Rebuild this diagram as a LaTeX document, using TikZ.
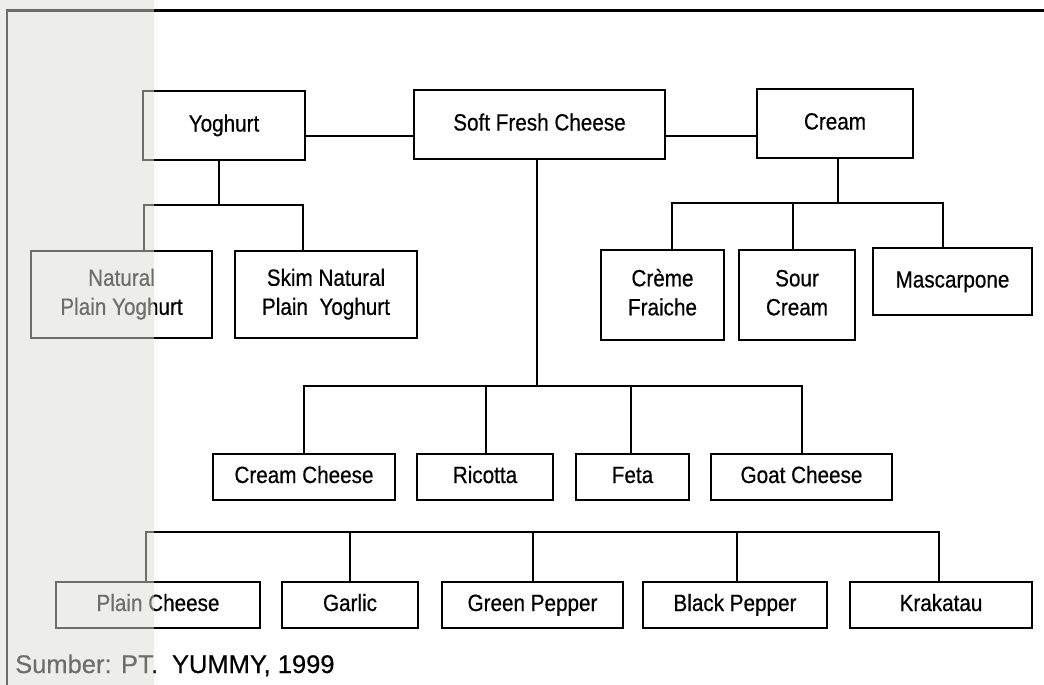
\documentclass[tikz,border=0pt]{standalone}
\usepackage{fontspec}
\setmainfont{Liberation Sans}[FakeBold=0.4]
\newfontfamily\boxfont{Liberation Sans}[FakeStretch=0.88,FakeBold=0.5]
\definecolor{ovl}{RGB}{219,219,215}
\tikzset{
  cbox/.style={draw, line width=2.4pt, inner sep=0pt, outer sep=0pt, align=center,
    font=\boxfont\fontsize{23.5}{29}\selectfont},
  one/.style={text height=20pt, text depth=8pt},
  conn/.style={line width=2.4pt},
}
\begin{document}
\begin{tikzpicture}[x=1pt,y=-1pt]
\useasboundingbox (0,0) rectangle (1044,685);
% frame
\draw[line width=2.8pt] (1044,10.5) -- (7,10.5) -- (7,685);
% top row
\node[cbox, one, minimum width=162pt, minimum height=69pt] (yog) at (224,125.5) {Yoghurt};
\node[cbox, one, minimum width=251pt, minimum height=69pt] (soft) at (539.5,124.5) {Soft Fresh Cheese};
\node[cbox, one, minimum width=156pt, minimum height=69pt] (cream) at (835,123.5) {Cream};
\coordinate (hl) at (0,136);
\draw[conn] (yog.east |- hl) -- (soft.west |- hl);
\draw[conn] (soft.east |- hl) -- (cream.west |- hl);
% yoghurt children
\node[cbox, minimum width=181pt, minimum height=87pt] (nat) at (121.5,294.5) {Natural\strut\\Plain Yoghurt\strut};
\node[cbox, minimum width=182pt, minimum height=87pt] (skim) at (326,294.5) {Skim Natural\strut\\Plain\ \ Yoghurt\strut};
\coordinate (jy) at (219,205);
\coordinate (y1) at (144,205);
\coordinate (y2) at (303,205);
\draw[conn] (jy |- yog.south) -- (jy);
\draw[conn] (nat.north -| y1) -- (y1) -- (y2) -- (skim.north -| y2);
% cream children
\node[cbox, minimum width=123pt, minimum height=90pt] (creme) at (662.5,295) {Crème\strut\\Fraiche\strut};
\node[cbox, minimum width=116pt, minimum height=90pt] (sour) at (797,295) {Sour\strut\\Cream\strut};
\node[cbox, one, minimum width=159pt, minimum height=67pt] (masc) at (952.5,281.5) {Mascarpone};
\coordinate (jc) at (838,203);
\coordinate (c1) at (672,203);
\coordinate (c2) at (793,203);
\coordinate (c3) at (943,203);
\draw[conn] (jc |- cream.south) -- (jc);
\draw[conn] (creme.north -| c1) -- (c1) -- (c3) -- (masc.north -| c3);
\draw[conn] (c2) -- (sour.north -| c2);
% soft cheese children
\node[cbox, one, minimum width=182pt, minimum height=46pt] (cc) at (304,477) {Cream Cheese};
\node[cbox, one, minimum width=136pt, minimum height=46pt] (ric) at (485,477) {Ricotta};
\node[cbox, one, minimum width=113pt, minimum height=46pt] (feta) at (632.5,477) {Feta};
\node[cbox, one, minimum width=181pt, minimum height=46pt] (goat) at (801.5,477) {Goat Cheese};
\coordinate (js) at (537,386);
\coordinate (s1) at (304,386);
\coordinate (s2) at (486,386);
\coordinate (s3) at (631,386);
\coordinate (s4) at (802,386);
\draw[conn] (js |- soft.south) -- (js);
\draw[conn] (cc.north -| s1) -- (s1) -- (s4) -- (goat.north -| s4);
\draw[conn] (s2) -- (ric.north -| s2);
\draw[conn] (s3) -- (feta.north -| s3);
% bottom row
\node[cbox, one, minimum width=204pt, minimum height=46pt] (plain) at (158,605) {Plain Cheese};
\node[cbox, one, minimum width=136pt, minimum height=46pt] (garlic) at (350,605) {Garlic};
\node[cbox, one, minimum width=181pt, minimum height=46pt] (green) at (532.5,605) {Green Pepper};
\node[cbox, one, minimum width=184pt, minimum height=46pt] (black) at (735,605) {Black Pepper};
\node[cbox, one, minimum width=182pt, minimum height=46pt] (krak) at (941,605) {Krakatau};
\coordinate (b1) at (146,532);
\coordinate (b2) at (350,532);
\coordinate (b3) at (533,532);
\coordinate (b4) at (737,532);
\coordinate (b5) at (939,532);
\draw[conn] (plain.north -| b1) -- (b1) -- (b5) -- (krak.north -| b5);
\draw[conn] (b2) -- (garlic.north -| b2);
\draw[conn] (b3) -- (green.north -| b3);
\draw[conn] (b4) -- (black.north -| b4);
% caption
\node[anchor=base west, inner sep=0pt, font=\fontsize{25.5}{30}\selectfont] (src) at (15,673) {Sumber: PT.\ \ YUMMY, 1999};
% grey overlay on the left strip
\fill[ovl, fill opacity=0.5] (0,0) rectangle (154,685);
\end{tikzpicture}
\end{document}
